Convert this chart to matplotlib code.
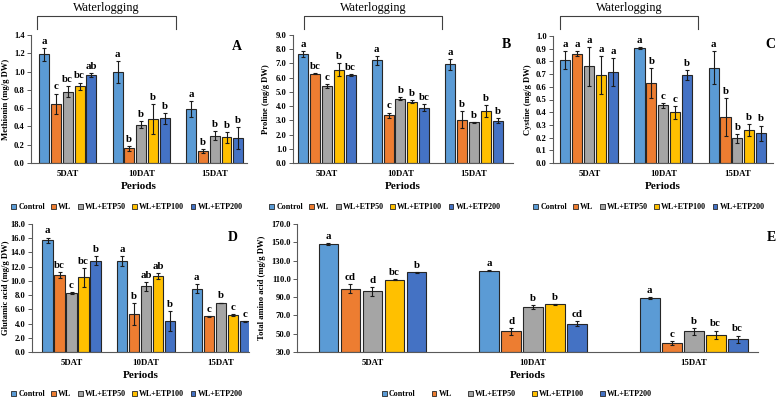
import matplotlib
matplotlib.use("Agg")
import matplotlib.pyplot as plt
from matplotlib.patches import Patch
from matplotlib.lines import Line2D
import numpy as np

plt.rcParams['font.family'] = ['Liberation Serif', 'DejaVu Serif']
plt.rcParams['font.weight'] = 'bold'

periods = ["5DAT", "10DAT", "15DAT"]
treatments = ["Control", "WL", "WL+ETP50", "WL+ETP100", "WL+ETP200"]
colors = ["#5B9BD5", "#ED7D31", "#A5A5A5", "#FFC000", "#4472C4"]

# values per treatment (rows) x period (cols)
met_vals = [[1.19, 1.00, 0.59], [0.65, 0.16, 0.13], [0.78, 0.42, 0.30], [0.84, 0.48, 0.28], [0.96, 0.49, 0.27]]
met_err = [[0.07, 0.12, 0.09], [0.11, 0.03, 0.02], [0.06, 0.04, 0.05], [0.04, 0.16, 0.06], [0.02, 0.06, 0.12]]
met_let = [["a", "a", "a"], ["c", "b", "b"], ["bc", "b", "b"], ["bc", "b", "b"], ["ab", "b", "b"]]

pro_vals = [[7.65, 7.22, 6.95], [6.28, 3.35, 3.05], [5.42, 4.52, 2.87], [6.55, 4.32, 3.65], [6.18, 3.90, 2.98]]
pro_err = [[0.20, 0.30, 0.38], [0.03, 0.20, 0.60], [0.15, 0.10, 0.03], [0.45, 0.10, 0.42], [0.06, 0.25, 0.18]]
pro_let = [["a", "a", "a"], ["bc", "c", "b"], ["c", "b", "b"], ["b", "b", "b"], ["bc", "bc", "b"]]

cys_vals = [[0.81, 0.905, 0.75], [0.86, 0.63, 0.36], [0.76, 0.455, 0.195], [0.69, 0.40, 0.26], [0.72, 0.695, 0.235]]
cys_err = [[0.07, 0.005, 0.13], [0.02, 0.12, 0.15], [0.15, 0.02, 0.035], [0.15, 0.05, 0.05], [0.11, 0.04, 0.06]]
cys_let = [["a", "a", "a"], ["a", "b", "b"], ["a", "c", "b"], ["a", "c", "b"], ["a", "b", "b"]]

glu_vals = [[15.7, 12.8, 8.9], [10.8, 5.3, 5.0], [8.3, 9.25, 6.9], [10.5, 10.65, 5.2], [12.85, 4.4, 4.3]]
glu_err = [[0.4, 0.75, 0.65], [0.4, 1.55, 0.05], [0.15, 0.65, 0.05], [1.3, 0.4, 0.1], [0.6, 1.4, 0.1]]
glu_let = [["a", "a", "a"], ["bc", "b", "c"], ["c", "ab", "b"], ["bc", "ab", "c"], ["b", "b", "c"]]

taa_vals = [[148.5, 119.0, 89.0], [99.0, 52.5, 39.5], [96.5, 79.0, 52.5], [108.8, 82.0, 49.0], [117.0, 61.0, 44.0]]
taa_err = [[1.0, 0.5, 1.5], [5.0, 4.0, 2.0], [5.0, 2.0, 4.0], [0.5, 0.5, 4.5], [0.5, 2.5, 4.0]]
taa_let = [["a", "a", "a"], ["cd", "d", "c"], ["d", "b", "b"], ["bc", "b", "bc"], ["b", "cd", "bc"]]

W, H = 778, 401
fig = plt.figure(figsize=(W / 100, H / 100), dpi=100)

def ax_px(l, r, b, t):
    ax = fig.add_axes([l / W, 1 - b / H, (r - l) / W, (b - t) / H])
    ax._px = (l, r, b, t)
    return ax

def draw(ax, vals, errs, lets, ylim, yticks, ylabel, xlim, slot, width, ylab_x, ymin=0):
    x = np.arange(len(periods))
    for i in range(len(treatments)):
        pos = x + (i - 2) * slot
        ax.bar(pos, np.array(vals[i]) - ymin, width, bottom=ymin, color=colors[i],
               edgecolor="#262626", linewidth=0.8, zorder=2)
        ax.errorbar(pos, vals[i], yerr=errs[i], fmt="none", ecolor="#1a1a1a",
                    elinewidth=0.8, capsize=1.6, capthick=0.8, zorder=3)
        for j in range(len(periods)):
            ax.annotate(lets[i][j], (pos[j], vals[i][j] + errs[i][j]), xytext=(0, 1.5),
                        textcoords="offset points", ha="center", va="bottom",
                        fontsize=7.8, fontweight="bold")
    ax.set_xlim(*xlim)
    ax.set_ylim(*ylim)
    ax.set_yticks(yticks)
    ax.set_yticklabels([f"{v:.1f}" for v in yticks], fontsize=6.2, fontweight="bold")
    ax.set_xticks(x)
    ax.set_xticklabels(periods, fontsize=6.3, fontweight="bold")
    ax.tick_params(axis="x", length=0, pad=5)
    ax.tick_params(axis="y", length=3, width=0.7, pad=1.5, color="#595959")
    for s in ["top", "right"]:
        ax.spines[s].set_visible(False)
    for s in ["left", "bottom"]:
        ax.spines[s].set_color("#595959")
        ax.spines[s].set_linewidth(0.8)
    ax.set_ylabel(ylabel, fontsize=6.2, fontweight="bold")
    l, r, b, t = ax._px
    ax.yaxis.set_label_coords((ylab_x - l) / (r - l), 0.5)
    ax.set_xlabel("Periods", fontsize=8, fontweight="bold", labelpad=3)

axA = ax_px(31, 247, 163, 35)
draw(axA, met_vals, met_err, met_let, (0, 1.4), np.arange(0, 1.41, 0.2),
     "Methionin (mg/g DW)", (-0.5, 2.44), 0.161, 0.136, 10)
axB = ax_px(293, 513, 163, 35)
draw(axB, pro_vals, pro_err, pro_let, (0, 9), np.arange(0, 9.01, 1.0),
     "Proline (mg/g DW)", (-0.46, 2.53), 0.161, 0.136, 270)
axC = ax_px(553, 773, 163, 36)
draw(axC, cys_vals, cys_err, cys_let, (0, 1.0), np.arange(0, 1.01, 0.1),
     "Cystine (mg/g DW)", (-0.49, 2.48), 0.161, 0.136, 532)
axD = ax_px(32, 249, 352, 224)
draw(axD, glu_vals, glu_err, glu_let, (0, 18), np.arange(0, 18.01, 2.0),
     "Glutamic acid (mg/g DW)", (-0.53, 2.38), 0.161, 0.136, 10)
axE = ax_px(297, 758, 352, 224)
draw(axE, taa_vals, taa_err, taa_let, (30, 170), np.arange(30, 170.1, 20.0),
     "Total amino acid (mg/g DW)", (-0.47, 2.40), 0.137, 0.124, 266, ymin=30)

# panel letters
for lab, (px, py) in zip("ABCDE", [(237, 46), (506, 45), (770, 45), (233, 237), (771, 237)]):
    fig.text(px / W, 1 - py / H, lab, fontsize=10, fontweight="bold", ha="center", va="center")

# waterlogging brackets
for (l, r) in [(37, 176), (304, 442), (560, 698)]:
    xs = [l / W, l / W, r / W, r / W]
    ys = [1 - 29 / H, 1 - 15.5 / H, 1 - 15.5 / H, 1 - 29 / H]
    fig.add_artist(Line2D(xs, ys, color="#404040", linewidth=0.8))
    fig.text((l + r) / 2 / W, 1 - 10.5 / H, "Waterlogging", fontsize=8.8, fontweight="normal",
             ha="center", va="baseline")

handles = [Patch(facecolor=c, edgecolor="#262626", linewidth=0.6) for c in colors]

def add_legend(cx, cy, colsp):
    fig.legend(handles, treatments, loc="center", bbox_to_anchor=(cx / W, 1 - cy / H),
               ncol=5, frameon=False, handlelength=0.6, handleheight=0.6,
               handletextpad=0.25, columnspacing=colsp, borderpad=0, borderaxespad=0,
               prop={"weight": "bold", "size": 5.8})

add_legend(127, 207, 0.8)
add_legend(385, 207, 0.8)
add_legend(649, 207, 0.8)
add_legend(127, 394, 0.8)
add_legend(517, 394, 2.0)

fig.savefig("out.png", dpi=100)
